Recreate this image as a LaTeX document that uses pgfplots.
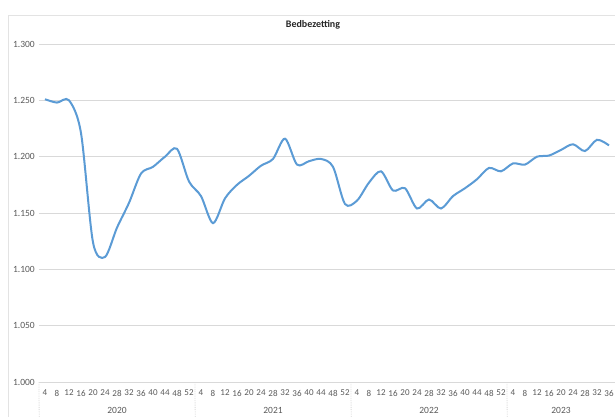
\documentclass[border=0pt]{standalone}
\usepackage{fontspec}
\setmainfont{Carlito}
\usepackage{pgfplots}
\pgfplotsset{compat=1.18}
\definecolor{excelBlue}{HTML}{5B9BD5}
\definecolor{gridGray}{HTML}{D9D9D9}
\definecolor{labelGray}{HTML}{595959}
\definecolor{frameGray}{HTML}{E3E3E3}

\pgfplotstableread{
idx val
0 1251
1 1248
2 1250
3 1221
4 1124
5 1111
6 1137
7 1159
8 1185
9 1191
10 1200
11 1207
12 1178
13 1165
14 1141
15 1163
16 1175
17 1183
18 1192
19 1198
20 1216
21 1193
22 1196
23 1198
24 1191
25 1158
26 1161
27 1177
28 1187
29 1170
30 1172
31 1154
32 1162
33 1154
34 1165
35 1172
36 1180
37 1190
38 1187
39 1194
40 1193
41 1200
42 1201
43 1206
44 1211
45 1205
46 1215
47 1210
}\bedtable

\begin{document}
\begin{tikzpicture}
  \begin{axis}[
    scale only axis,
    width=576bp, height=338bp,
    xmin=-0.5, xmax=47.5,
    ymin=1000, ymax=1300,
    ytick={1000,1050,...,1300},
    xtick={0,...,47},
    xticklabels={4,8,12,16,20,24,28,32,36,40,44,48,52,
                 4,8,12,16,20,24,28,32,36,40,44,48,52,
                 4,8,12,16,20,24,28,32,36,40,44,48,52,
                 4,8,12,16,20,24,28,32,36},
    axis line style={draw=none},
    major tick length=0pt,
    ymajorgrids,
    grid style={gridGray, line width=0.8bp},
    /pgf/number format/assume math mode=true,
    /pgf/number format/1000 sep={.},
    yticklabel style={font=\fontsize{9.5bp}{11bp}\selectfont, text=labelGray, anchor=east, inner sep=0pt, xshift=-4bp},
    xticklabel style={font=\fontsize{9bp}{10bp}\selectfont, text=labelGray, anchor=center, inner sep=0pt, yshift=-11bp},
    clip=false,
  ]
    \addplot[excelBlue, line width=2bp, smooth, tension=0.5, no markers] table[x=idx, y=val] {\bedtable};

    % dotted year separators below the axis
    \foreach \b in {-0.5,12.5,25.5,38.5} {
      \edef\tmp{\noexpand\draw[gridGray, densely dotted, line width=0.8bp] (axis cs:\b,1000) -- ++(0,-35bp);}
      \tmp
    }
    \node[font=\fontsize{9.5bp}{11bp}\selectfont, text=labelGray] at ([yshift=-28bp]axis cs:6,1000) {2020};
    \node[font=\fontsize{9.5bp}{11bp}\selectfont, text=labelGray] at ([yshift=-28bp]axis cs:19,1000) {2021};
    \node[font=\fontsize{9.5bp}{11bp}\selectfont, text=labelGray] at ([yshift=-28bp]axis cs:32,1000) {2022};
    \node[font=\fontsize{9.5bp}{11bp}\selectfont, text=labelGray] at ([yshift=-28bp]axis cs:43,1000) {2023};
  \end{axis}
  \draw[frameGray, line width=0.8bp] (-31bp,-35bp) -- (-31bp,367bp) -- (576bp,367bp);
  \node[font=\bfseries\fontsize{10bp}{12bp}\selectfont, text=black!85] at (274bp,357bp) {Bedbezetting};
  \pgfresetboundingbox
  \path[use as bounding box] (-39bp,-35bp) rectangle (576bp,382bp);
\end{tikzpicture}
\end{document}
